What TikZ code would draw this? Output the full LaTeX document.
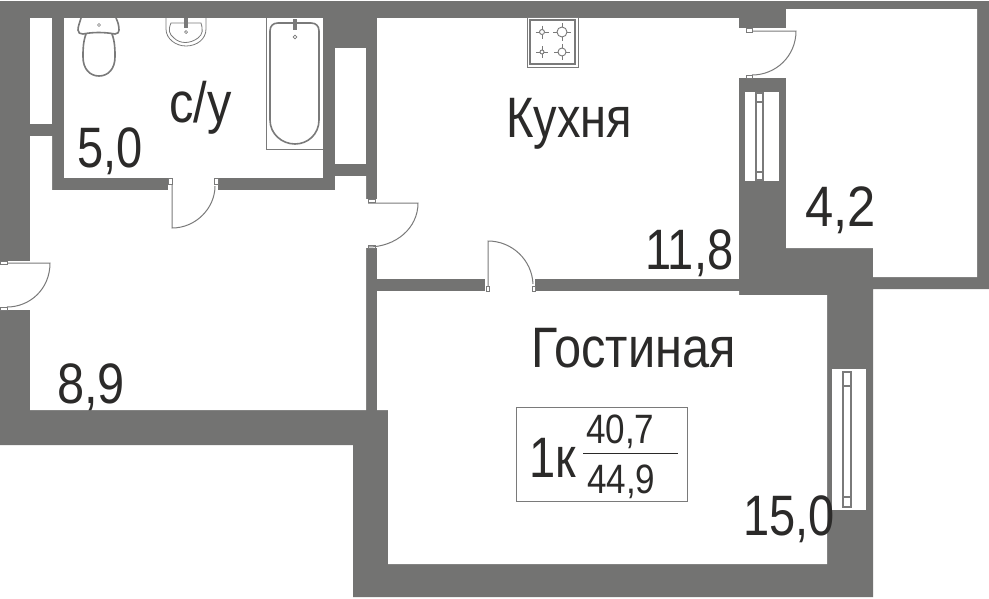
\documentclass[tikz,border=0pt]{standalone}
\usepackage{fontspec}
\setmainfont[FakeStretch=0.825]{Liberation Sans}
\newfontfamily\widefont[FakeStretch=0.855]{Liberation Sans}
\newfontfamily\widerfont[FakeStretch=0.89]{Liberation Sans}
\definecolor{wallc}{HTML}{737372}
\definecolor{inkc}{HTML}{2B2A29}
\definecolor{linec}{HTML}{7A7A7A}
\tikzset{
 room/.style={fill=white,draw=none},
 leaf/.style={draw=linec,line width=1pt},
 fixt/.style={draw=linec,line width=1pt},
 fixtb/.style={draw=linec,line width=1.6pt},
 jamb/.style={draw=linec,fill=white,line width=0.8pt},
 frame/.style={draw=linec,fill=white,line width=1.6pt},
 lab/.style={inner sep=0pt,anchor=base west,text=inkc,font=\fontsize{57}{57}\selectfont},
 labsm/.style={inner sep=0pt,anchor=base west,text=inkc,font=\widefont\fontsize{41}{41}\selectfont},
}
\begin{document}
\begin{tikzpicture}[x=1pt,y=-1pt]
\useasboundingbox (0,0) rectangle (989,598);
\fill[white] (0,0) rectangle (989,598);
% wall mass
\fill[wallc] (0,1)--(989,1)--(989,289)--(873,289)--(873,597)--(353,597)--(353,445)--(0,445)--cycle;
% rooms
\path[room] (30,18) rectangle (52,124);
\path[room] (64,18) rectangle (323,178);
\path[room] (335,48) rectangle (366,164);
\path[room] (377,18) rectangle (739,279);
\path[room] (786,9)--(977,9)--(977,277)--(873,277)--(873,248)--(786,248)--cycle;
\path[room] (30,136)--(52,136)--(52,190)--(335,190)--(335,176)--(366,176)--(366,410)--(30,410)--cycle;
\path[room] (377,291)--(739,291)--(739,295)--(827,295)--(827,564)--(388,564)--(388,410)--(377,410)--cycle;
% door openings
\path[room] (168,177) rectangle (218,191);
\path[room] (365,199) rectangle (378,248);
\path[room] (485,278) rectangle (535,292);
\path[room] (738,28) rectangle (787,78);
\path[room] (-1,261) rectangle (31,310);
% doors
\draw[jamb] (168,178) rectangle (172,184);
\draw[jamb] (214,178) rectangle (218,184);
\draw[leaf] (172,184)--(172,228) .. controls (196,228) and (215,208) .. (215,186);
\draw[jamb] (368,199) rectangle (375,202);
\draw[jamb] (368,245) rectangle (375,248);
\draw[leaf] (368,203)--(418,203) .. controls (418,228) and (396,247) .. (368,247);
\draw[jamb] (486,286) rectangle (489,291);
\draw[jamb] (532,286) rectangle (535,291);
\draw[leaf] (488,286)--(488,241) .. controls (512,241) and (532,260) .. (533,284);
\draw[jamb] (746,28) rectangle (752,32);
\draw[jamb] (746,75) rectangle (752,78);
\draw[leaf] (752,31)--(796,31) .. controls (796,56) and (776,75) .. (752,75);
\draw[jamb] (0,261) rectangle (7,264);
\draw[jamb] (0,307) rectangle (7,310);
\draw[leaf] (7,263)--(50,263) .. controls (50,289) and (30,307) .. (7,307);
% windows
\path[room] (745,92) rectangle (779,181);
\draw[frame] (756,93) rectangle (763,180);
\draw[frame] (756,93) rectangle (763,102);
\draw[frame] (756,172) rectangle (763,180);
\path[room] (832,369) rectangle (866,510);
\draw[frame] (843,372) rectangle (851,507);
\draw[frame] (843,372) rectangle (851,386);
\draw[frame] (843,497) rectangle (851,507);
% bath
\draw[fixt] (266,18)--(266,149)--(323,149);
\draw[fixtb] (278,23)--(311,23) .. controls (316,23) and (319,26) .. (319,31)--(319,120) .. controls (319,134) and (308,144) .. (295,144) .. controls (282,144) and (270,134) .. (270,120)--(270,31) .. controls (270,26) and (273,23) .. (278,23)--cycle;
\fill[linec] (293,19) rectangle (297,30);
\draw[linec,line width=0.7pt] (295,37) circle (1.8);
% toilet
\draw[fixtb] (81,18) .. controls (80,22) and (78,26) .. (78,30) .. controls (78,33) and (80,34) .. (83,34) .. controls (93,32) and (104,32) .. (115,34) .. controls (118,34) and (119,32) .. (119,30) .. controls (119,26) and (118,22) .. (116,18);
\draw[fixtb] (86,34) .. controls (83,42) and (83,50) .. (83,57) .. controls (83,69) and (90,76) .. (99,76) .. controls (108,76) and (115,69) .. (115,57) .. controls (115,50) and (115,42) .. (112,34);
\draw[linec,line width=0.7pt] (99,25) circle (1.5);
% basin
\draw[linec,line width=0.8pt] (166,18)--(166,29) .. controls (166,39) and (176,46) .. (186,46) .. controls (197,46) and (206,39) .. (206,29)--(206,18);
\draw[linec,line width=0.8pt] (171,23)--(201,23) .. controls (203,30) and (203,34) .. (198,38) .. controls (190,44) and (180,44) .. (174,38) .. controls (169,34) and (168,30) .. (171,23)--cycle;
\fill[linec] (184,18) rectangle (188,28);
\draw[linec,line width=0.7pt] (186,32) circle (1.5);
% stove
\draw[linec,fill=white,line width=0.8pt] (527,17) rectangle (578,67);
\draw[linec,line width=1.4pt] (530,20) rectangle (575,64);
\foreach \cx/\cy/\rr in {542/32/2.5,562/32/5,542/52/2,562/52/4}{
 \draw[linec,line width=0.9pt] (\cx,\cy) circle (\rr);
 \draw[linec,line width=0.9pt] (\cx-\rr-4,\cy)--(\cx-\rr,\cy) (\cx+\rr,\cy)--(\cx+\rr+4,\cy) (\cx,\cy-\rr-4)--(\cx,\cy-\rr) (\cx,\cy+\rr)--(\cx,\cy+\rr+4);
}
% labels
\node[lab] (wcname) at (169,122) {\widefont с/у};
\node[lab] (wcarea) at (77,167) {5,0};
\node[lab] (kname) at (506,137) {Кухня};
\node[lab] (karea) at (645,269) {11,8};
\node[lab] (barea) at (805,226) {\widerfont 4,2};
\node[lab] (lname) at (531,367) {\widefont Гостиная};
\node[lab] (harea) at (57,403) {\widefont 8,9};
\node[lab] (larea) at (743,535) {15,0};
% summary box
\draw[draw=linec,line width=1pt] (516.5,407.5) rectangle (687.5,501);
\node[lab] (rooms) at (529,477) {1к};
\node[labsm] (livearea) at (586,443) {40,7};
\node[labsm] (totalarea) at (587,493) {44,9};
\draw[inkc,line width=1.6pt] (583,453.5)--(678,453.5);
\end{tikzpicture}
\end{document}
